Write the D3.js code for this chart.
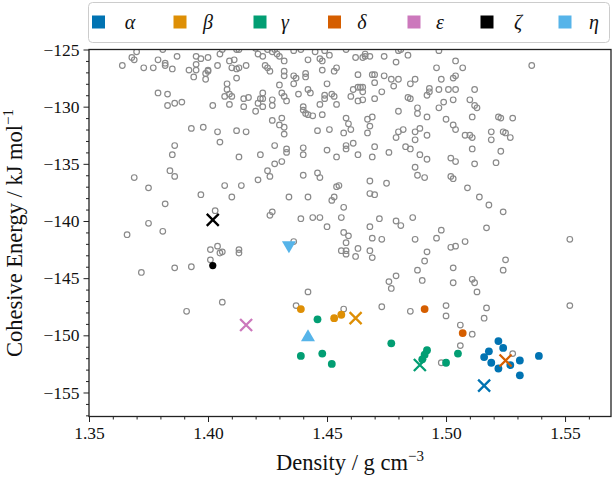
<!DOCTYPE html>
<html><head><meta charset="utf-8">
<script src="https://cdn.jsdelivr.net/npm/d3@7"></script>
<style>
html,body{margin:0;padding:0;background:#fff;}
svg{display:block;}
text{font-family:"Liberation Serif","DejaVu Serif",serif;fill:#111;}
</style></head><body>
<svg id="chart" width="612" height="479"></svg>
<script>
// ---------- data ----------
const polymorphs = ["α","β","γ","δ","ε","ζ","η"];
const xTicks = [1.35,1.40,1.45,1.50,1.55];
const yTicks = [-155,-150,-145,-140,-135,-130,-125];

// generated (screened) structures: [density, cohesive energy]
const screened = [
[1.370,-125.2],[1.368,-125.7],[1.369,-125.9],[1.381,-125.0],[1.364,-126.4],[1.373,-126.6],[1.377,-126.6],[1.379,-125.9],[1.382,-126.2],[1.382,-126.4],[1.385,-126.7],[1.387,-125.6],[1.395,-125.6],[1.397,-125.8],[1.400,-125.7],[1.395,-126.3],[1.392,-126.8],[1.395,-126.8],[1.394,-127.4],[1.399,-127.1],[1.400,-126.9],[1.400,-126.8],[1.399,-127.6],[1.404,-126.4],[1.405,-125.4],[1.409,-126.0],[1.411,-125.9],[1.410,-126.6],[1.412,-126.7],[1.413,-126.6],[1.412,-127.5],[1.416,-126.4],[1.406,-125.0],[1.412,-125.0],[1.413,-125.0],[1.420,-124.9],[1.421,-125.4],[1.423,-125.6],[1.425,-125.0],[1.427,-125.2],[1.429,-125.4],[1.430,-125.6],[1.432,-126.0],[1.428,-125.0],[1.436,-125.1],[1.439,-125.0],[1.445,-125.2],[1.449,-125.1],[1.447,-125.8],[1.448,-126.0],[1.442,-125.9],[1.424,-126.4],[1.425,-126.6],[1.426,-126.9],[1.432,-126.9],[1.432,-127.3],[1.436,-127.3],[1.437,-127.5],[1.436,-128.0],[1.441,-127.1],[1.441,-127.4],[1.448,-126.8],[1.450,-128.0],[1.379,-128.8],[1.383,-128.9],[1.383,-129.9],[1.386,-129.7],[1.389,-129.6],[1.402,-129.9],[1.408,-128.0],[1.408,-128.5],[1.409,-128.9],[1.407,-129.1],[1.410,-129.1],[1.409,-129.8],[1.415,-129.3],[1.417,-129.2],[1.415,-130.0],[1.423,-128.8],[1.422,-129.3],[1.423,-129.3],[1.421,-129.7],[1.423,-130.0],[1.420,-130.4],[1.427,-129.4],[1.427,-129.9],[1.431,-128.8],[1.432,-129.1],[1.433,-129.5],[1.430,-128.1],[1.438,-128.9],[1.442,-128.5],[1.443,-128.8],[1.440,-130.0],[1.440,-130.3],[1.441,-130.6],[1.442,-130.7],[1.444,-130.8],[1.448,-130.7],[1.447,-129.8],[1.449,-129.3],[1.449,-129.0],[1.393,-131.9],[1.398,-131.8],[1.404,-132.2],[1.405,-133.1],[1.412,-132.1],[1.416,-132.2],[1.427,-131.2],[1.431,-131.0],[1.430,-131.6],[1.432,-131.8],[1.432,-132.4],[1.446,-132.1],[1.451,-132.0],[1.386,-133.4],[1.385,-134.2],[1.413,-134.4],[1.422,-134.2],[1.428,-133.4],[1.433,-133.7],[1.433,-134.0],[1.440,-133.6],[1.440,-134.2],[1.450,-133.8],[1.428,-135.0],[1.431,-134.8],
[1.451,-125.5],[1.458,-125.0],[1.462,-125.7],[1.465,-125.7],[1.466,-125.4],[1.466,-125.6],[1.468,-125.6],[1.474,-125.6],[1.479,-126.1],[1.480,-125.1],[1.481,-125.0],[1.484,-125.5],[1.497,-125.1],[1.504,-126.0],[1.507,-126.6],[1.496,-126.6],[1.536,-126.4],[1.454,-126.6],[1.453,-126.9],[1.463,-127.2],[1.469,-127.2],[1.470,-127.2],[1.474,-127.3],[1.477,-127.6],[1.478,-128.2],[1.480,-127.6],[1.485,-128.0],[1.487,-127.6],[1.498,-127.6],[1.503,-127.5],[1.504,-127.3],[1.470,-127.9],[1.473,-128.7],[1.470,-129.3],[1.460,-129.1],[1.461,-128.5],[1.463,-128.3],[1.464,-128.3],[1.465,-128.3],[1.465,-128.7],[1.463,-129.5],[1.465,-129.4],[1.452,-128.9],[1.453,-129.1],[1.454,-129.8],[1.484,-129.2],[1.485,-129.3],[1.492,-129.0],[1.493,-128.4],[1.493,-128.7],[1.497,-128.5],[1.501,-128.5],[1.504,-128.5],[1.512,-128.5],[1.499,-129.6],[1.503,-129.4],[1.510,-129.4],[1.497,-130.1],[1.512,-129.9],[1.513,-130.1],[1.480,-130.4],[1.488,-130.1],[1.488,-130.6],[1.492,-130.9],[1.500,-131.1],[1.511,-130.9],[1.523,-131.0],[1.522,-130.9],[1.528,-131.0],[1.458,-131.0],[1.459,-131.5],[1.467,-131.1],[1.469,-130.9],[1.468,-131.7],[1.467,-132.3],[1.460,-132.0],[1.457,-132.3],[1.482,-132.0],[1.480,-132.2],[1.479,-132.7],[1.487,-132.2],[1.489,-131.9],[1.492,-132.5],[1.487,-132.9],[1.503,-131.6],[1.504,-132.0],[1.508,-132.5],[1.510,-132.5],[1.511,-132.7],[1.519,-132.2],[1.519,-132.9],[1.524,-132.2],[1.525,-132.3],[1.527,-132.7],[1.458,-133.4],[1.458,-133.7],[1.461,-133.2],[1.454,-134.4],[1.463,-134.2],[1.469,-134.4],[1.470,-133.5],[1.476,-134.0],[1.483,-133.5],[1.485,-133.7],[1.489,-134.2],[1.492,-134.6],[1.502,-134.5],[1.504,-134.8],[1.511,-133.7],[1.512,-135.0],[1.521,-134.9],[1.523,-133.9],[1.487,-135.3],
[1.369,-136.2],[1.384,-135.6],[1.386,-136.1],[1.375,-137.1],[1.382,-138.5],[1.397,-137.7],[1.407,-136.9],[1.414,-136.9],[1.410,-137.9],[1.421,-136.4],[1.425,-135.6],[1.426,-136.1],[1.440,-136.0],[1.446,-135.8],[1.447,-136.2],[1.434,-137.9],[1.442,-137.9],[1.426,-139.5],[1.427,-139.2],[1.439,-139.8],[1.444,-139.7],[1.447,-139.7],[1.450,-140.5],[1.403,-139.1],[1.375,-140.2],[1.381,-140.9],[1.366,-141.2],[1.401,-142.5],[1.404,-142.2],[1.405,-142.8],[1.406,-142.7],[1.413,-142.5],[1.413,-142.8],[1.401,-143.4],[1.386,-144.1],[1.393,-144.0],[1.372,-144.5],[1.436,-141.8],[1.442,-146.2],
[1.488,-136.0],[1.491,-136.2],[1.502,-136.1],[1.503,-136.3],[1.509,-137.1],[1.514,-137.9],[1.518,-138.6],[1.524,-139.2],[1.454,-137.0],[1.455,-136.9],[1.468,-136.5],[1.475,-136.7],[1.468,-137.6],[1.470,-137.7],[1.453,-137.9],[1.452,-138.2],[1.457,-138.8],[1.456,-139.7],[1.472,-139.8],[1.479,-140.0],[1.481,-140.4],[1.486,-139.7],[1.468,-140.5],[1.457,-141.0],[1.459,-141.3],[1.458,-141.9],[1.456,-142.6],[1.458,-142.6],[1.458,-142.9],[1.462,-143.1],[1.463,-142.4],[1.468,-142.6],[1.469,-143.2],[1.469,-141.5],[1.473,-141.6],[1.487,-141.6],[1.496,-141.5],[1.498,-140.8],[1.502,-142.3],[1.504,-142.2],[1.508,-141.8],[1.517,-140.6],[1.552,-141.6],[1.492,-142.7],[1.491,-143.5],[1.488,-144.3],[1.490,-145.2],[1.479,-144.8],[1.476,-145.3],[1.477,-145.9],[1.503,-144.1],[1.503,-145.4],[1.511,-145.1],[1.512,-145.4],[1.513,-146.2],[1.525,-143.4],[1.524,-144.3],
[1.391,-147.9],[1.406,-147.1],[1.437,-147.4],[1.457,-147.7],[1.473,-147.5],[1.485,-147.9],[1.500,-147.4],[1.500,-148.3],[1.517,-147.6],[1.516,-148.5],[1.506,-149.1],[1.511,-149.9],[1.506,-150.9],[1.498,-152.4],[1.528,-151.6],[1.552,-147.4]
];

// polymorph structures (filled circles) and reference structures (crosses / triangles)
const alphaCircles = [[1.522,-150.5],[1.524,-151.1],[1.518,-151.4],[1.516,-151.9],[1.519,-152.4],[1.522,-152.9],[1.527,-152.6],[1.531,-152.2],[1.531,-153.5],[1.539,-151.8]];
const alphaCross   = [[1.516,-154.4]];
const betaCircles  = [[1.439,-147.7],[1.453,-148.5],[1.456,-148.2]];
const betaCross    = [[1.462,-148.5]];
const gammaCircles = [[1.446,-148.6],[1.439,-151.8],[1.448,-151.6],[1.452,-152.5],[1.477,-150.7],[1.492,-151.3],[1.491,-151.7],[1.490,-152.1],[1.500,-152.4],[1.505,-151.6]];
const gammaCross   = [[1.489,-152.6]];
const deltaCircles = [[1.491,-147.7],[1.507,-149.8]];
const deltaCross   = [[1.525,-152.2]];
const epsilonCross = [[1.416,-149.1]];
const zetaCircles  = [[1.402,-143.9]];
const zetaCross    = [[1.402,-139.9]];
const etaDown      = [[1.434,-142.3]];
const etaUp        = [[1.442,-150.0]];

// ---------- layout ----------
const colors = {"α":"#0173b2","β":"#de8f05","γ":"#029e73","δ":"#d55e00","ε":"#cc78bc","ζ":"#000000","η":"#56b4e9"};
const L = 89, R = 611, T = 49.5, B = 416.5;
const x = d3.scaleLinear().domain([1.35, 1.5693]).range([L, R]);
const y = d3.scaleLinear().domain([-157.1, -125]).range([B, T]);
const svg = d3.select("#chart");

svg.append("clipPath").attr("id","clip").append("rect")
  .attr("x",L).attr("y",T).attr("width",R-L).attr("height",B-T);
const plot = svg.append("g").attr("clip-path","url(#clip)");

// grey open circles
plot.append("g").selectAll("circle").data(screened).join("circle")
  .attr("cx",d=>x(d[0])).attr("cy",d=>y(d[1])).attr("r",2.8)
  .attr("fill","none").attr("stroke","#8a8a8a").attr("stroke-width",1.2);

function circles(data, c, r){
  plot.append("g").selectAll("circle").data(data).join("circle")
    .attr("cx",d=>x(d[0])).attr("cy",d=>y(d[1])).attr("r",r||3.9).attr("fill",c);
}
function crosses(data, c){
  const s = 6;
  plot.append("g").selectAll("path").data(data).join("path")
    .attr("d",d=>{const cx=x(d[0]), cy=y(d[1]);
      return `M${cx-s},${cy-s}L${cx+s},${cy+s}M${cx-s},${cy+s}L${cx+s},${cy-s}`;})
    .attr("stroke",c).attr("stroke-width",2.3).attr("fill","none");
}
function triangles(data, c, up){
  const w = 7, h = 6;
  plot.append("g").selectAll("path").data(data).join("path")
    .attr("d",d=>{const cx=x(d[0]), cy=y(d[1]);
      return up ? `M${cx},${cy-h}L${cx+w},${cy+h}L${cx-w},${cy+h}Z`
                : `M${cx},${cy+h}L${cx+w},${cy-h}L${cx-w},${cy-h}Z`;})
    .attr("fill",c);
}
circles(alphaCircles, colors["α"]);
circles(betaCircles, colors["β"]);
circles(gammaCircles, colors["γ"]);
circles(deltaCircles, colors["δ"]);
circles(zetaCircles, colors["ζ"], 3.6);
crosses(alphaCross, colors["α"]);
crosses(betaCross, colors["β"]);
crosses(gammaCross, colors["γ"]);
crosses(deltaCross, colors["δ"]);
crosses(epsilonCross, colors["ε"]);
crosses(zetaCross, colors["ζ"]);
triangles(etaDown, colors["η"], false);
triangles(etaUp, colors["η"], true);

// ---------- axes ----------
const minus = s => s.replace("-", "\u2212");
const xAxis = svg.append("g").attr("transform",`translate(0,${B})`)
  .call(d3.axisBottom(x).tickValues(xTicks).tickFormat(d3.format(".2f")).tickSize(5.5).tickPadding(5));
const xMinor = svg.append("g").attr("transform",`translate(0,${B})`)
  .call(d3.axisBottom(x).tickValues(d3.range(1.36,1.57,0.01).filter(v=>Math.abs(v*20-Math.round(v*20))>0.01)).tickFormat("").tickSize(3));
const yAxis = svg.append("g").attr("transform",`translate(${L},0)`)
  .call(d3.axisLeft(y).tickValues(yTicks).tickFormat(d=>minus(String(d))).tickSize(5.5).tickPadding(4));
const yMinor = svg.append("g").attr("transform",`translate(${L},0)`)
  .call(d3.axisLeft(y).tickValues(d3.range(-157,-125,1).filter(v=>v%5!==0)).tickFormat("").tickSize(3));
[xAxis,xMinor,yAxis,yMinor].forEach(g=>{
  g.select(".domain").remove();
  g.selectAll(".tick line").attr("stroke","#222").attr("stroke-width",1);
  g.selectAll("text").attr("font-family","Liberation Serif, serif").attr("font-size",17.5).attr("fill","#222");
});
// frame
svg.append("rect").attr("x",L).attr("y",T).attr("width",R-L).attr("height",B-T)
  .attr("fill","none").attr("stroke","#222").attr("stroke-width",1.3);

// axis labels
const xl = svg.append("text").attr("x",(L+R)/2).attr("y",470).attr("text-anchor","middle").attr("font-size",22.5);
xl.append("tspan").text("Density / g cm");
xl.append("tspan").attr("font-size",15).attr("dy",-9).text("\u22123");
const yl = svg.append("text").attr("transform",`translate(22,${(T+B)/2}) rotate(-90)`).attr("text-anchor","middle").attr("font-size",22.5);
yl.append("tspan").text("Cohesive Energy / kJ mol");
yl.append("tspan").attr("font-size",15).attr("dy",-9).text("\u22121");

// ---------- legend ----------
const lg = svg.append("g");
lg.append("rect").attr("x",88.5).attr("y",2.5).attr("width",521).attr("height",40).attr("rx",4)
  .attr("fill","#fff").attr("fill-opacity",0.8).attr("stroke","#cccccc").attr("stroke-width",1);
const swatchX = [98.5,180,260,334.5,414,487,565];
const labelX = [130,208,285,362,440,518,594];
polymorphs.forEach((p,i)=>{
  lg.append("rect").attr("x",swatchX[i]-6.5).attr("y",22-6.5).attr("width",13).attr("height",13).attr("fill",colors[p]);
  lg.append("text").attr("x",labelX[i]).attr("y",29).attr("text-anchor","middle")
    .attr("font-size",20).attr("font-style","italic").text(p);
});
</script>
</body></html>
